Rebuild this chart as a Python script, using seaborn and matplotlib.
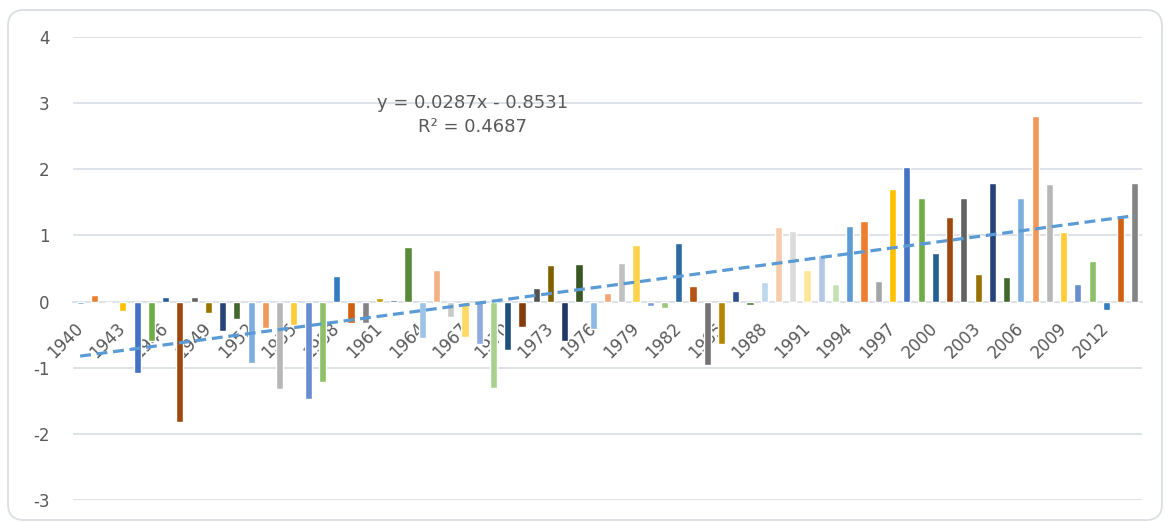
import numpy as np
import pandas as pd
import matplotlib
matplotlib.use("Agg")
import matplotlib.pyplot as plt
from matplotlib.patches import FancyBboxPatch
from matplotlib.transforms import IdentityTransform
import seaborn as sns

# ---------------- data ----------------
years = list(range(1940, 2015))
values = [
    -0.04, 0.10, 0.00, -0.14, -1.08, -0.60, 0.07, -1.82, 0.07, -0.17,
    -0.45, -0.27, -0.93, -0.40, -1.32, -0.36, -1.48, -1.21, 0.38, -0.32,
    -0.32, 0.05, 0.03, 0.82, -0.55, 0.48, -0.24, -0.54, -0.64, -1.31,
    -0.73, -0.38, 0.21, 0.55, -0.60, 0.57, -0.41, 0.13, 0.58, 0.85,
    -0.06, -0.10, 0.88, 0.24, -0.96, -0.64, 0.16, -0.05, 0.29, 1.13,
    1.06, 0.48, 0.71, 0.27, 1.15, 1.22, 0.31, 1.70, 2.03, 1.57,
    0.73, 1.28, 1.56, 0.41, 1.80, 0.37, 1.57, 2.81, 1.78, 1.05,
    0.27, 0.62, -0.13, 1.30, 1.80,
]
trend_slope = 0.0287
trend_intercept = -0.8531
trend_label = "y = 0.0287x - 0.8531\nR² = 0.4687"
y_ticks = [-3, -2, -1, 0, 1, 2, 3, 4]

# Excel "vary colors by point" palette (9 levels x 6 accents)
palette_levels = [
    ["#5B9BD5", "#ED7D31", "#A5A5A5", "#FFC000", "#4472C4", "#70AD47"],
    ["#255E91", "#9E480E", "#636363", "#997300", "#264478", "#43682B"],
    ["#7CAFDD", "#F1975A", "#B7B7B7", "#FFCD33", "#698ED0", "#8CC168"],
    ["#327DC2", "#D26012", "#848484", "#CC9A00", "#335AA1", "#5A8A39"],
    ["#9DC3E6", "#F4B183", "#C9C9C9", "#FFD966", "#8FAADC", "#A9D18E"],
    ["#1F4E79", "#843C0C", "#525252", "#7F6000", "#203864", "#385723"],
    ["#8CBAE2", "#F3A676", "#C0C0C0", "#FFD34D", "#7E9DD6", "#9BC97B"],
    ["#2C6AA3", "#B55310", "#747474", "#B38600", "#2D4F8C", "#4E7832"],
    ["#BDD7EE", "#F8CBAD", "#DBDBDB", "#FFE699", "#B4C7E7", "#C5E0B4"],
]
flat_palette = [c for lvl in palette_levels for c in lvl]
bar_colors = [flat_palette[i % len(flat_palette)] for i in range(len(years))]

# ---------------- figure ----------------
W, H, DPI = 1172, 522, 100
sns.set_theme(style="white")
plt.rcParams["font.family"] = ["DejaVu Sans"]

fig = plt.figure(figsize=(W / DPI, H / DPI), dpi=DPI)
fig.patch.set_facecolor("white")

# rounded chart frame
frame = FancyBboxPatch((8, 2), 1162 - 8, 512 - 2,
                       boxstyle="round,pad=0,rounding_size=16",
                       transform=IdentityTransform(),
                       facecolor="none", edgecolor="#DADDE3", linewidth=1.3,
                       zorder=-5)
fig.patches.append(frame)

left, right, top, bottom = 73, 1142, 37, 500
ax = fig.add_axes([left / W, 1 - bottom / H, (right - left) / W, (bottom - top) / H])
ax.set_facecolor("none")

df = pd.DataFrame({"year": [str(y) for y in years], "value": values})
sns.barplot(data=df, x="year", y="value", hue="year", palette=bar_colors,
            width=0.5, legend=False, ax=ax, zorder=3, saturation=1)

# trend line
idx = np.arange(len(years))
trend_df = pd.DataFrame({"x": idx, "y": trend_slope * (idx + 1) + trend_intercept})
sns.lineplot(data=trend_df, x="x", y="y", ax=ax, color="#5B9BD5", linewidth=2.3,
             linestyle=(0, (3.4, 1.8)), zorder=4)

ax.text(27.5, 2.82, trend_label, ha="center", va="center", fontsize=13,
        color="#595959", linespacing=1.4, zorder=5)

# axes styling
ax.set_xlim(-0.5, len(years) - 0.5)
ax.set_ylim(-3, 4)
ax.set_yticks(y_ticks)
ax.set_yticklabels([str(t) for t in y_ticks])
ax.yaxis.grid(True, color="#DDE1E8", linewidth=1.4, zorder=0)
ax.set_axisbelow(True)
for s in ["top", "right", "left"]:
    ax.spines[s].set_visible(False)
ax.spines["bottom"].set_position(("data", 0))
ax.spines["bottom"].set_color("#DDE1E8")
ax.spines["bottom"].set_linewidth(1.4)

tick_pos = list(range(0, len(years), 3))
ax.set_xticks(tick_pos)
ax.set_xticklabels([str(years[i]) for i in tick_pos], rotation=45, ha="right",
                   va="center", rotation_mode="anchor")
ax.tick_params(axis="x", length=0, pad=17, labelsize=12, labelcolor="#595959")
ax.tick_params(axis="y", length=0, pad=17, labelsize=12, labelcolor="#595959")
for lab in ax.get_xticklabels():
    lab.set_zorder(6)
ax.set_xlabel("")
ax.set_ylabel("")

fig.savefig("out.png", dpi=DPI, facecolor="white")
